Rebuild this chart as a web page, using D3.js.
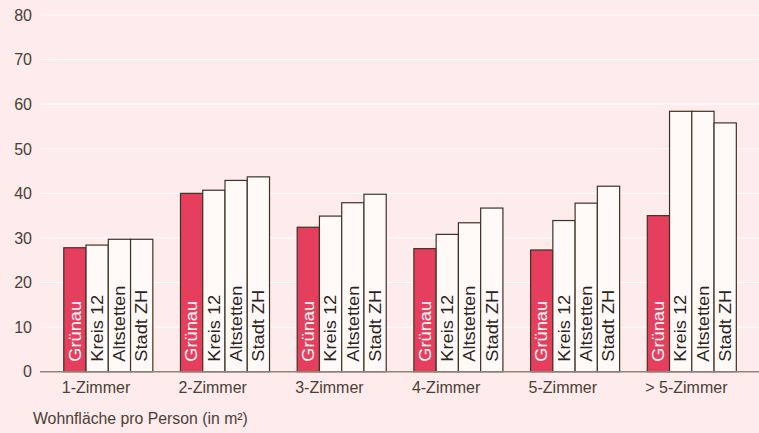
<!DOCTYPE html>
<html>
<head>
<meta charset="utf-8">
<script src="https://cdn.jsdelivr.net/npm/d3@7"></script>
<style>
  body { margin: 0; background: #fdeceb; }
  svg { display: block; font-family: "Liberation Sans", Arial, sans-serif; }
</style>
</head>
<body>
<div class="graph"></div>
<script>
var categories = ["1-Zimmer", "2-Zimmer", "3-Zimmer", "4-Zimmer", "5-Zimmer", "> 5-Zimmer"];
var seriesNames = ["Grünau", "Kreis 12", "Altstetten", "Stadt ZH"];
var gruenau    = [27.8, 40.0, 32.4, 27.6, 27.3, 35.0];
var kreis12    = [28.4, 40.7, 34.9, 30.8, 33.9, 58.4];
var altstetten = [29.7, 42.9, 37.9, 33.4, 37.8, 58.4];
var stadtZH    = [29.7, 43.7, 39.8, 36.7, 41.6, 55.8];
var yTicks = [0, 10, 20, 30, 40, 50, 60, 70, 80];
var axisTitle = "Wohnfläche pro Person (in m²)";

var w = 759, h = 433;
var margin = { top: 15, right: 0, bottom: 61, left: 40 };

var svg = d3.select(".graph")
    .append("svg")
    .attr("width", w)
    .attr("height", h);

svg.append("rect")
    .attr("width", w).attr("height", h)
    .attr("fill", "#fdeceb");

var y = d3.scaleLinear()
    .domain([0, 80])
    .range([h - margin.bottom - 0.3, margin.top]);

// groups sit at a fixed step, roughly 116.7px apart starting at 63
var x0 = d3.scaleBand()
    .domain(categories)
    .range([63.3 - 13.85, 63.3 - 13.85 + 116.7 * 6])
    .paddingInner(0.237)
    .paddingOuter(0.5 * 0.237);

var x1 = d3.scaleBand()
    .domain(seriesNames)
    .range([0, x0.bandwidth()]);

// gridlines
svg.append("g")
    .selectAll("line")
    .data(yTicks.filter(function(d) { return d > 0; }))
    .enter()
    .append("line")
    .attr("x1", margin.left)
    .attr("x2", w)
    .attr("y1", function(d) { return y(d); })
    .attr("y2", function(d) { return y(d); })
    .attr("stroke", "#ffffff")
    .attr("stroke-width", 1);

// y labels
svg.append("g")
    .selectAll("text")
    .data(yTicks)
    .enter()
    .append("text")
    .attr("x", 32)
    .attr("y", function(d) { return y(d); })
    .attr("dy", "0.36em")
    .attr("text-anchor", "end")
    .attr("font-size", "16px")
    .attr("fill", "#4a4036")
    .text(function(d) { return d; });

var rows = categories.map(function(c, i) {
    return { cat: c, vals: [gruenau[i], kreis12[i], altstetten[i], stadtZH[i]] };
});

var groups = svg.selectAll(".grp")
    .data(rows)
    .enter()
    .append("g")
    .attr("class", "grp")
    .attr("transform", function(d) { return "translate(" + x0(d.cat) + ",0)"; });

groups.selectAll("rect")
    .data(function(d) {
        return d.vals.map(function(v, j) { return { name: seriesNames[j], value: v }; });
    })
    .enter()
    .append("rect")
    .attr("x", function(d) { return x1(d.name) + 0.5; })
    .attr("y", function(d) { return y(d.value); })
    .attr("width", x1.bandwidth())
    .attr("height", function(d) { return y(0) - y(d.value); })
    .attr("fill", function(d) { return d.name === "Grünau" ? "#e63f5d" : "#fffaf8"; })
    .attr("stroke", "#3e3226")
    .attr("stroke-width", 1.2);

// labels inside bars, a bit stretched along their length like the original
groups.selectAll("text")
    .data(function(d) { return seriesNames; })
    .enter()
    .append("text")
    .attr("transform", function(d) {
        var cx = x1(d) + x1.bandwidth() / 2 + 0.5;
        return "translate(" + cx + "," + (y(0) - 10) + ") rotate(-90) scale(1.14,1)";
    })
    .attr("dy", "0.36em")
    .attr("font-size", "16px")
    .attr("fill", function(d) { return d === "Grünau" ? "#ffffff" : "#2b241d"; })
    .text(function(d) { return d; });

// x axis baseline
svg.append("line")
    .attr("x1", margin.left)
    .attr("x2", w)
    .attr("y1", y(0))
    .attr("y2", y(0))
    .attr("stroke", "#8f8378")
    .attr("stroke-width", 1.6);

// category labels, left aligned with the group
svg.append("g")
    .selectAll("text")
    .data(categories)
    .enter()
    .append("text")
    .attr("x", function(d) { return x0(d) - 1.5; })
    .attr("y", 387)
    .attr("dy", "0.36em")
    .attr("font-size", "16px")
    .attr("fill", "#4a4036")
    .text(function(d) { return d; });

svg.append("text")
    .attr("x", 33)
    .attr("y", 418)
    .attr("dy", "0.36em")
    .attr("font-size", "15.8px")
    .attr("fill", "#4a4036")
    .text(axisTitle);
</script>
</body>
</html>
